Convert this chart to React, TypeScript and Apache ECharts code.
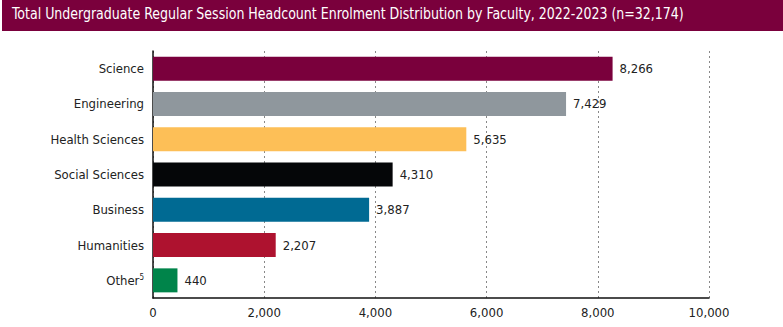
import React, { useEffect, useRef } from "react";
import * as echarts from "echarts";

const categories = ["Science", "Engineering", "Health Sciences", "Social Sciences", "Business", "Humanities", "Other"];
const values = [8266, 7429, 5635, 4310, 3887, 2207, 440];
const barColors = ["#7a003c", "#8f979d", "#fdbf57", "#050608", "#006a93", "#ae122f", "#00844a"];
const titleText = "Total Undergraduate Regular Session Headcount Enrolment Distribution by Faculty, 2022-2023 (n=32,174)";

const FONT = "'DejaVu Sans Condensed', 'Roboto', sans-serif";

export default function App() {
  const ref = useRef<HTMLDivElement>(null);
  useEffect(() => {
    if (!ref.current) return;
    const chart = echarts.init(ref.current, null, { renderer: "svg" });
    chart.setOption({
      animation: false,
      textStyle: { fontFamily: FONT },
      graphic: [
        {
          type: "rect",
          left: 2,
          top: 0,
          shape: { width: 781, height: 31 },
          style: { fill: "#7a003c" },
        },
        {
          type: "text",
          x: 12,
          y: 6,
          scaleX: 0.875,
          style: { text: titleText, fill: "#ffffff", font: `16px ${FONT}` },
        },
      ],
      grid: { left: 153, right: 74, top: 51, bottom: 29, containLabel: false },
      xAxis: {
        type: "value",
        min: 0,
        max: 10000,
        interval: 2000,
        axisLine: { show: true, lineStyle: { color: "#111", width: 1.5 } },
        axisTick: { show: false },
        axisLabel: {
          color: "#222",
          fontSize: 13,
          fontFamily: FONT,
          margin: 8,
          formatter: (v: number) => v.toLocaleString("en-US"),
        },
        splitLine: { show: true, lineStyle: { color: "#888", type: [2, 3], width: 1 } },
      },
      yAxis: {
        type: "category",
        data: categories,
        inverse: true,
        axisLine: { show: true, lineStyle: { color: "#111", width: 1.5 } },
        axisTick: { show: false },
        axisLabel: {
          color: "#222",
          fontSize: 13,
          fontFamily: FONT,
          margin: 9,
          formatter: (v: string) => (v === "Other" ? "Other{sup|5}" : v),
          rich: {
            sup: { fontSize: 8, verticalAlign: "top", color: "#222", fontFamily: FONT, padding: [0, 0, 6, 0] },
          },
        },
      },
      series: [
        {
          type: "bar",
          data: values.map((v, i) => ({ value: v, itemStyle: { color: barColors[i] } })),
          barWidth: "68%",
          label: {
            show: true,
            position: "right",
            distance: 7,
            color: "#222",
            fontSize: 13,
            fontFamily: FONT,
            formatter: (p: any) => Number(p.value).toLocaleString("en-US"),
          },
        },
      ],
    });
    return () => chart.dispose();
  }, []);
  return <div ref={ref} style={{ width: 783, height: 327, position: "absolute", left: 0, top: 0 }} />;
}
